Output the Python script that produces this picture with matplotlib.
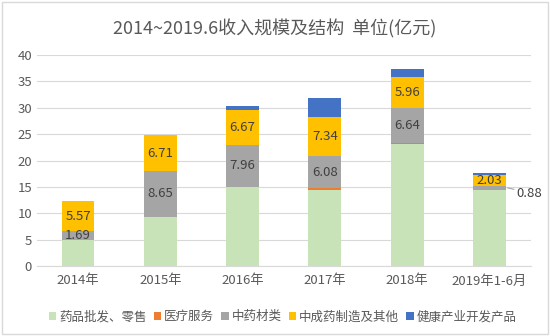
import numpy as np
import matplotlib.pyplot as plt

plt.rcParams['font.family'] = ['Noto Sans CJK SC', 'DejaVu Sans']

years = ["2014年", "2015年", "2016年", "2017年", "2018年", "2019年1-6月"]
wholesale = [5.0, 9.4, 15.05, 14.5, 23.1, 14.4]      # 药品批发、零售
medical = [0.0, 0.0, 0.0, 0.3, 0.2, 0.0]            # 医疗服务
herbs = [1.69, 8.65, 7.96, 6.08, 6.64, 0.88]        # 中药材类
patent = [5.57, 6.71, 6.67, 7.34, 5.96, 2.03]       # 中成药制造及其他
health = [0.0, 0.0, 0.7, 3.6, 1.4, 0.25]            # 健康产业开发产品

series = [
    ("药品批发、零售", wholesale, "#c9e3b8"),
    ("医疗服务", medical, "#ed7d31"),
    ("中药材类", herbs, "#a5a5a5"),
    ("中成药制造及其他", patent, "#ffc000"),
    ("健康产业开发产品", health, "#4472c4"),
]

text_color = "#595959"
fig = plt.figure(figsize=(5.5, 3.36), dpi=100)
ax = fig.add_axes([0.067, 0.208, 0.898, 0.628])

x = np.arange(len(years))
bottom = np.zeros(len(years))
bars = {}
for name, vals, color in series:
    vals = np.array(vals)
    bars[name] = ax.bar(x, vals, 0.4, bottom=bottom, color=color, label=name, zorder=2)
    bottom += vals

# value labels on the herb and patent-medicine segments
herb_bars = bars["中药材类"]
for i, rect in enumerate(herb_bars):
    if i == 5:
        continue
    ax.text(rect.get_x() + rect.get_width() / 2, rect.get_y() + rect.get_height() / 2,
            f"{herbs[i]:.2f}", ha="center", va="center", fontsize=9.5, color="#404040", zorder=3)
for i, rect in enumerate(bars["中成药制造及其他"]):
    ax.text(rect.get_x() + rect.get_width() / 2, rect.get_y() + rect.get_height() / 2,
            f"{patent[i]:.2f}", ha="center", va="center", fontsize=9.5, color="#404040", zorder=3)

# leader label for the thin 2019 herb segment
r = herb_bars[5]
ax.annotate(f"{herbs[5]:.2f}", xy=(r.get_x() + r.get_width() + 0.02, r.get_y() + r.get_height() / 2),
            xytext=(r.get_x() + r.get_width() + 0.13, r.get_y() + r.get_height() / 2 - 1.0),
            fontsize=9.5, color="#404040", va="center", annotation_clip=False,
            arrowprops=dict(arrowstyle="-", color="#a5a5a5", lw=0.8, shrinkA=0, shrinkB=0))

ax.set_ylim(0, 40)
ax.set_yticks(range(0, 41, 5))
ax.set_xlim(-0.5, 5.5)
ax.set_xticks(x)
ax.set_xticklabels(years)
ax.yaxis.grid(True, color="#d9d9d9", lw=0.8, zorder=0)
ax.set_axisbelow(True)
for s in ["top", "right", "left"]:
    ax.spines[s].set_visible(False)
ax.spines["bottom"].set_color("#d9d9d9")
ax.tick_params(axis="both", length=0, labelsize=9.5, colors=text_color)
ax.tick_params(axis="x", pad=6)

fig.text(0.5, 0.915, "2014~2019.6收入规模及结构  单位(亿元)", ha="center", va="center",
         fontsize=13, color=text_color)

fig.legend(loc="center", bbox_to_anchor=(0.514, 0.057), ncol=5, frameon=False,
           fontsize=9, handlelength=0.6, handleheight=0.6, handletextpad=0.2,
           columnspacing=0.6, labelcolor=text_color)

# outer chart border
fig.patches.append(plt.Rectangle((0.003, 0.005), 0.994, 0.99, transform=fig.transFigure,
                                 fill=False, edgecolor="#d9d9d9", lw=1))

fig.savefig("out.png", dpi=100)
